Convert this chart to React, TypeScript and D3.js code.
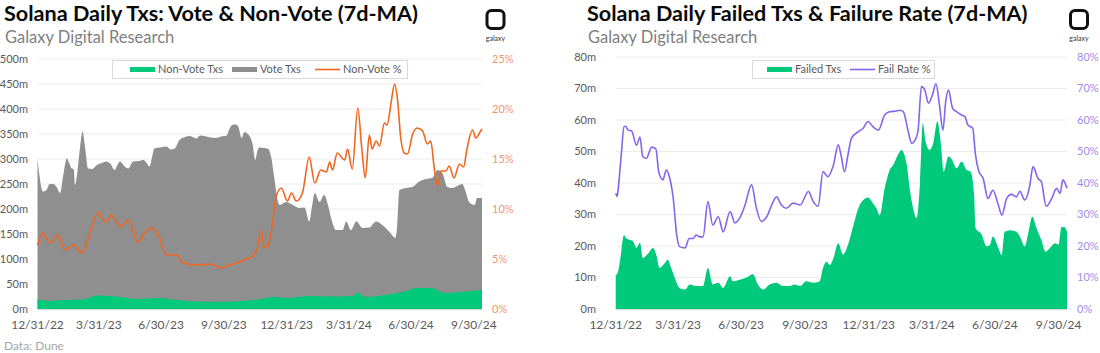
import React from 'react';
import * as d3 from 'd3';

type Pt = [number, number];

// x positions are days since 12/31/22
const endDay = 651;
const xTickDays = [0, 90, 181, 273, 365, 456, 547, 639];
const xTickLabels = ['12/31/22', '3/31/23', '6/30/23', '9/30/23', '12/31/23', '3/31/24', '6/30/24', '9/30/24'];

const voteTicks = [0, 50, 100, 150, 200, 250, 300, 350, 400, 450, 500];
const nonVotePctTicks = [0, 5, 10, 15, 20, 25];
const failedTicks = [0, 10, 20, 30, 40, 50, 60, 70, 80];
const failRateTicks = [0, 10, 20, 30, 40, 50, 60, 70, 80];

// vote + non-vote stack top (millions)
const totalTxs: Pt[] = [
  [0, 301], [3, 265], [8, 235], [13, 238], [18, 250], [23, 250], [28, 244], [33, 232], [38, 270], [43, 301],
  [47, 290], [50, 281], [53, 280], [55, 248], [58, 270], [62, 320], [66, 355], [70, 320], [74, 281], [80, 280],
  [87, 288], [94, 292], [101, 295], [107, 290], [113, 278], [117, 288], [121, 295], [127, 286], [133, 281], [140, 295],
  [148, 296], [155, 298], [160, 292], [164, 285], [168, 305], [171, 321], [180, 323], [189, 325], [195, 319], [201, 321],
  [208, 338], [216, 344], [223, 346], [233, 341], [238, 347], [247, 345], [260, 342], [269, 345], [277, 347], [281, 360],
  [285, 368], [290, 369], [294, 365], [299, 342], [303, 354], [308, 350], [311, 345], [315, 330], [319, 298], [322, 316],
  [325, 323], [332, 322], [338, 320], [342, 305], [347, 260], [352, 215], [355, 208], [364, 214], [374, 208], [384, 202],
  [391, 203], [398, 175], [402, 205], [406, 232], [413, 214], [420, 228], [425, 210], [430, 182], [437, 158], [447, 158],
  [452, 175], [459, 158], [467, 175], [476, 162], [486, 163], [496, 175], [505, 168], [515, 155], [521, 145], [524, 142],
  [527, 170], [530, 238], [540, 242], [549, 244], [559, 255], [569, 260], [578, 262], [586, 278], [593, 272], [600, 244],
  [607, 242], [618, 248], [622, 250], [627, 235], [632, 214], [640, 208], [644, 222], [651, 222],
];

const nonVoteTxs: Pt[] = [
  [0, 19], [18, 16], [40, 18], [65, 19], [89, 27], [121, 24], [147, 20], [177, 22], [204, 18], [233, 15],
  [269, 14], [296, 16], [323, 19], [347, 24], [366, 22], [398, 26], [439, 25], [462, 26], [469, 33], [480, 24],
  [518, 30], [540, 36], [556, 42], [576, 42], [598, 32], [618, 34], [642, 37], [651, 38],
];

const nonVotePct: Pt[] = [
  [0, 6.4], [8, 7.6], [18, 6.6], [30, 7.4], [40, 5.9], [52, 6.4], [65, 5.6], [79, 8.1], [89, 9.7], [95, 9.0],
  [101, 8.7], [108, 9.4], [121, 8.2], [133, 8.9], [147, 6.7], [157, 7.6], [167, 8.1], [177, 7.4], [189, 5.4], [204, 5.4],
  [213, 4.6], [233, 4.4], [252, 4.5], [269, 4.1], [281, 4.4], [296, 4.7], [306, 5.0], [316, 5.4], [322, 6.1], [327, 7.8],
  [333, 6.1], [337, 6.3], [341, 7.2], [344, 8.5], [349, 11.1], [357, 12.1], [366, 10.8], [372, 11.6], [379, 10.8], [388, 11.6],
  [398, 15.2], [406, 12.6], [415, 13.9], [423, 13.7], [428, 14.7], [432, 13.9], [439, 15.6], [450, 14.9], [454, 16.0], [461, 14.0],
  [469, 20.1], [475, 16.0], [480, 13.1], [486, 17.4], [490, 16.0], [496, 16.8], [501, 16.3], [508, 18.6], [512, 18.4], [518, 20.7],
  [523, 22.5], [527, 21.1], [532, 17.1], [537, 15.6], [542, 15.5], [549, 17.4], [556, 18.1], [564, 17.8], [571, 16.5], [576, 16.8],
  [581, 14.1], [586, 12.3], [591, 13.8], [598, 13.8], [603, 14.3], [610, 13.1], [618, 14.5], [624, 14.2], [629, 16.0], [637, 17.9],
  [642, 17.1], [649, 17.8], [651, 18.0],
];

const failedTxs: Pt[] = [
  [0, 10.8], [3, 11.5], [6, 15], [12, 23.5], [15, 22.5], [20, 22], [25, 21.5], [30, 19.4], [35, 21], [39, 16.2],
  [47, 17.7], [54, 19.4], [59, 16.8], [63, 13], [71, 14.6], [75, 15.6], [80, 13], [85, 10], [92, 6.7], [100, 6.2],
  [107, 7.8], [116, 7.3], [126, 7.3], [133, 13], [140, 7.8], [148, 8.3], [155, 6.7], [165, 10.4], [169, 8.8], [179, 9.3],
  [189, 10], [198, 11], [205, 7.8], [213, 6.2], [222, 7.8], [232, 8.3], [241, 7.3], [251, 7.3], [258, 7.8], [266, 7.3],
  [275, 8.8], [285, 8.3], [294, 8.7], [299, 13], [304, 15], [309, 14], [314, 16.1], [321, 20.9], [328, 17.3], [335, 20.4],
  [343, 26.7], [350, 32], [357, 34.6], [364, 35.4], [371, 33.6], [376, 32], [381, 29.8], [388, 38.3], [395, 44], [400, 45.6],
  [407, 48.9], [412, 50.5], [420, 45.6], [424, 38.3], [429, 32], [434, 28.9], [439, 40.4], [443, 59], [447, 53.1], [453, 50.5],
  [458, 52.6], [464, 59.5], [469, 52.6], [473, 43.6], [480, 48.4], [484, 47.8], [492, 44.7], [499, 46.8], [506, 44.2], [512, 43.6],
  [517, 36.2], [519, 25.7], [528, 23.6], [535, 19.9], [540, 20.4], [544, 23], [552, 19.4], [557, 17.1], [561, 24.5], [569, 25],
  [578, 24.5], [583, 23], [590, 19.9], [595, 24], [601, 29.3], [607, 25.6], [614, 21.9], [620, 18.2], [626, 19.3], [634, 20.9],
  [639, 20.4], [643, 26], [647, 26], [651, 24.5],
];

const failRatePct: Pt[] = [
  [0, 36.7], [2, 35.7], [3, 37], [8, 48.9], [12, 57.9], [14, 58], [18, 56.8], [23, 56.5], [30, 52], [35, 54.6],
  [39, 48.4], [44, 47.8], [52, 51.4], [58, 50.8], [62, 43.6], [68, 41], [73, 44.1], [78, 41.5], [83, 35.1], [88, 23.5],
  [92, 19.8], [100, 19.4], [106, 22.4], [112, 22.4], [116, 23.5], [121, 22.9], [126, 22.9], [133, 34.1], [140, 26.7], [148, 29.3],
  [155, 24.5], [165, 30.9], [172, 27.3], [179, 28.9], [186, 32.6], [196, 39.4], [203, 32], [210, 27.8], [218, 29.3], [225, 33],
  [232, 35.6], [239, 33], [246, 32], [256, 33.6], [266, 33], [278, 37.3], [285, 34.1], [292, 32.6], [299, 43.6], [306, 42],
  [314, 45.6], [321, 52.1], [325, 48.9], [330, 43.6], [335, 48.9], [340, 54.2], [350, 56.3], [357, 57.4], [364, 59.5], [371, 57.9],
  [379, 56.8], [388, 61.6], [395, 62.6], [403, 62.8], [410, 63.1], [415, 62.6], [422, 56.3], [427, 52.6], [431, 53.3], [436, 56.3],
  [441, 70.6], [446, 69.5], [451, 65.3], [457, 68], [462, 71.6], [467, 64.8], [472, 56.8], [476, 65.8], [480, 69.5], [486, 63.7],
  [492, 62.6], [499, 61.6], [504, 61], [508, 58.4], [515, 57.4], [519, 48.9], [524, 43.6], [530, 41.5], [537, 35.1], [544, 37.7],
  [552, 33], [557, 29.8], [564, 35.1], [571, 36.4], [578, 35.6], [583, 37.4], [590, 34.6], [597, 38.8], [602, 45.2], [609, 41.5],
  [614, 40.4], [621, 32.6], [629, 35.1], [636, 38.3], [641, 36.7], [645, 41], [651, 38.3],
];

const FONT = "Lato, 'Open Sans', sans-serif";
const GREEN = '#00c97c';
const GRAY = '#8f8f8f';
const ORANGE = '#f2651f';
const PURPLE = '#8466ec';
const AXIS_TEXT = '#595959';

type LegendItem = { kind: 'rect' | 'line'; color: string; label: string; x: number };

function Logo({ cx }: { cx: number }) {
  return (
    <g>
      <rect x={cx - 8.5} y={10.5} width={17} height={18} rx={4.5} fill="none" stroke="#111" strokeWidth={3} />
      <text x={cx} y={41} textAnchor="middle" fontSize={7} fill="#333" fontFamily={FONT}>galaxy</text>
    </g>
  );
}

function Panel(props: {
  left: number; title: string; x0: number; x1: number; yTop: number; yBottom: number;
  leftTicks: number[]; leftLabelX: number; rightTicks: number[]; rightColor: string;
  areas: { data: Pt[]; color: string }[]; line: { data: Pt[]; color: string };
  legendBox: [number, number]; legend: LegendItem[]; logoX: number;
}) {
  const { left, title, x0, x1, yTop, yBottom, leftTicks, leftLabelX, rightTicks, rightColor, areas, line, legendBox, legend, logoX } = props;
  const x = d3.scaleLinear().domain([0, endDay]).range([x0, x1]);
  const yL = d3.scaleLinear().domain([0, d3.max(leftTicks)!]).range([yBottom, yTop]);
  const yR = d3.scaleLinear().domain([0, d3.max(rightTicks)!]).range([yBottom, yTop]);
  const area = d3.area<Pt>().x(d => x(d[0])).y0(yBottom).y1(d => yL(d[1])).curve(d3.curveMonotoneX);
  const path = d3.line<Pt>().x(d => x(d[0])).y(d => yR(d[1])).curve(d3.curveMonotoneX);

  return (
    <g fontFamily={FONT}>
      <text x={left} y={21} fontSize={21.6} fontWeight="bold" fill="#0a0a0a">{title}</text>
      <text x={left + 1} y={43} fontSize={16.5} fill="#7f7f7f">Galaxy Digital Research</text>
      <Logo cx={logoX} />

      {leftTicks.filter(t => t > 0).map(t => (
        <line key={t} x1={x0} x2={x1} y1={yL(t)} y2={yL(t)} stroke="#ececec" strokeWidth={1} />
      ))}
      {areas.map((a, i) => (
        <path key={i} d={area(a.data) ?? ''} fill={a.color} />
      ))}
      <line x1={x0} x2={x1} y1={yBottom + 0.5} y2={yBottom + 0.5} stroke="#d9d9d9" />
      <path d={path(line.data) ?? ''} fill="none" stroke={line.color} strokeWidth={1.6} strokeLinejoin="round" />

      {leftTicks.map(t => (
        <text key={t} x={leftLabelX} y={yL(t)} dy="0.35em" textAnchor="end" fontSize={11} fill={AXIS_TEXT}>{`${t}m`}</text>
      ))}
      {rightTicks.map(t => (
        <text key={t} x={x1 + 10} y={yR(t)} dy="0.35em" fontSize={11} fill={rightColor}>{`${t}%`}</text>
      ))}
      {xTickDays.map((d, i) => (
        <text key={d} x={x(d)} y={325} dy="0.35em" textAnchor="middle" fontSize={12} fill={AXIS_TEXT}>{xTickLabels[i]}</text>
      ))}

      <rect x={legendBox[0] + 0.5} y={60.5} width={legendBox[1] - legendBox[0]} height={18} fill="#fff" stroke="#d9d9d9" />
      {legend.map(item => (
        <g key={item.label}>
          {item.kind === 'rect'
            ? <rect x={item.x} y={67} width={25} height={5} fill={item.color} />
            : <line x1={item.x} x2={item.x + 25} y1={69.5} y2={69.5} stroke={item.color} strokeWidth={1.6} />}
          <text x={item.x + 28} y={69.5} dy="0.35em" fontSize={11} fill={AXIS_TEXT}>{item.label}</text>
        </g>
      ))}
    </g>
  );
}

export default function App() {
  return (
    <svg width={1100} height={353} style={{ position: 'absolute', left: 0, top: 0, background: '#fff' }}>
      <rect width={1100} height={353} fill="#fff" />
      <Panel
        left={4}
        title="Solana Daily Txs: Vote & Non-Vote (7d-MA)"
        x0={37.5} x1={482} yTop={59} yBottom={309}
        leftTicks={voteTicks} leftLabelX={28}
        rightTicks={nonVotePctTicks} rightColor="#f3946a"
        areas={[{ data: totalTxs, color: GRAY }, { data: nonVoteTxs, color: GREEN }]}
        line={{ data: nonVotePct, color: ORANGE }}
        legendBox={[112, 407]}
        legend={[
          { kind: 'rect', color: GREEN, label: 'Non-Vote Txs', x: 130 },
          { kind: 'rect', color: GRAY, label: 'Vote Txs', x: 232 },
          { kind: 'line', color: ORANGE, label: 'Non-Vote %', x: 315 },
        ]}
        logoX={495.5}
      />
      <Panel
        left={587}
        title="Solana Daily Failed Txs & Failure Rate (7d-MA)"
        x0={615.7} x1={1067} yTop={57} yBottom={309}
        leftTicks={failedTicks} leftLabelX={596}
        rightTicks={failRateTicks} rightColor="#a08bf0"
        areas={[{ data: failedTxs, color: GREEN }]}
        line={{ data: failRatePct, color: PURPLE }}
        legendBox={[752, 934]}
        legend={[
          { kind: 'rect', color: GREEN, label: 'Failed Txs', x: 767 },
          { kind: 'line', color: PURPLE, label: 'Fail Rate %', x: 850 },
        ]}
        logoX={1079}
      />
      <text x={4} y={350} fontSize={12} fill="#a6a6a6" fontFamily={FONT}>Data: Dune</text>
    </svg>
  );
}
